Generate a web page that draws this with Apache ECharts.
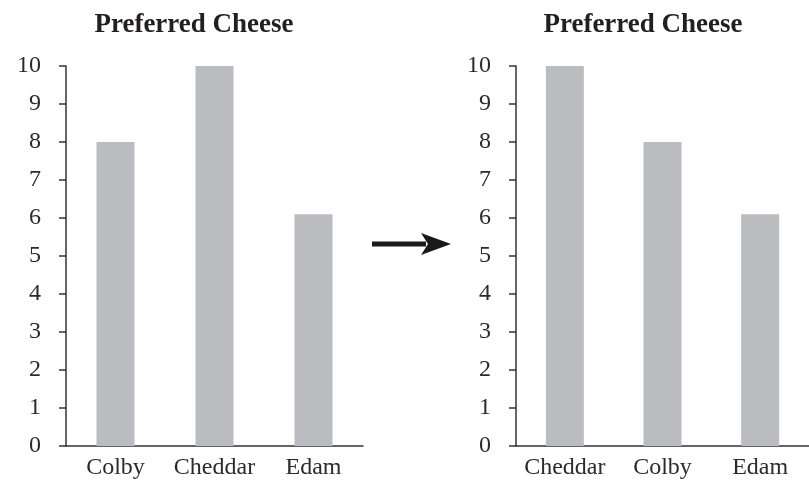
<!DOCTYPE html>
<html>
<head>
<meta charset="utf-8">
<script src="https://cdn.jsdelivr.net/npm/echarts@6/dist/echarts.min.js"></script>
<style>
html,body{margin:0;padding:0;background:#fff;}
#chart{width:809px;height:482px;}
</style>
</head>
<body>
<div id="chart"></div>
<script>
var titleText = 'Preferred Cheese';
var leftCategories = ['Colby', 'Cheddar', 'Edam'];
var leftValues = [8, 10, 6.1];
var rightCategories = ['Cheddar', 'Colby', 'Edam'];
var rightValues = [10, 8, 6.1];
var yMin = 0, yMax = 10, yStep = 1;

var FONT = 'Liberation Serif';
var TXT = '#2b2b2b';
var BAR = '#bbbcc0';

function yAxisDef(gi) {
  return {
    type: 'value', gridIndex: gi, min: yMin, max: yMax, interval: yStep,
    axisLine: {show: true, lineStyle: {color: '#333', width: 1.5}},
    axisTick: {show: true, inside: false, length: 7, lineStyle: {color: '#333', width: 1.5}},
    axisLabel: {color: TXT, fontFamily: FONT, fontSize: 24, margin: 25, padding: [6, 0, 0, 0]},
    splitLine: {show: false}
  };
}
function xAxisDef(gi, cats) {
  return {
    type: 'category', gridIndex: gi, data: cats, boundaryGap: true,
    axisLine: {show: true, lineStyle: {color: '#333', width: 1.5}},
    axisTick: {show: false},
    axisLabel: {color: TXT, fontFamily: FONT, fontSize: 24, margin: 10, interval: 0}
  };
}

var chart = echarts.init(document.getElementById('chart'), null, {renderer: 'canvas'});
chart.setOption({
  backgroundColor: '#fff',
  animation: false,
  title: [
    {text: titleText, left: 189, top: 7, textAlign: 'center',
     textStyle: {fontFamily: FONT, fontWeight: 'bold', fontSize: 27, color: '#231f20'}},
    {text: titleText, left: 638, top: 7, textAlign: 'center',
     textStyle: {fontFamily: FONT, fontWeight: 'bold', fontSize: 27, color: '#231f20'}}
  ],
  grid: [
    {left: 66, top: 66, width: 297, height: 380, containLabel: false},
    {left: 516, top: 66, width: 297, height: 380, containLabel: false}
  ],
  xAxis: [xAxisDef(0, leftCategories), xAxisDef(1, rightCategories)],
  yAxis: [yAxisDef(0), yAxisDef(1)],
  series: [
    {type: 'bar', xAxisIndex: 0, yAxisIndex: 0, data: leftValues, barWidth: 38,
     itemStyle: {color: BAR}},
    {type: 'bar', xAxisIndex: 1, yAxisIndex: 1, data: rightValues, barWidth: 38,
     itemStyle: {color: BAR}}
  ],
  graphic: [
    {type: 'rect', shape: {x: 372, y: 241.5, width: 54, height: 5}, style: {fill: '#1a1a1a'}},
    {type: 'polygon', shape: {points: [[421, 233], [451, 244], [421, 255], [428, 244]]},
     style: {fill: '#1a1a1a'}}
  ]
});
</script>
</body>
</html>
